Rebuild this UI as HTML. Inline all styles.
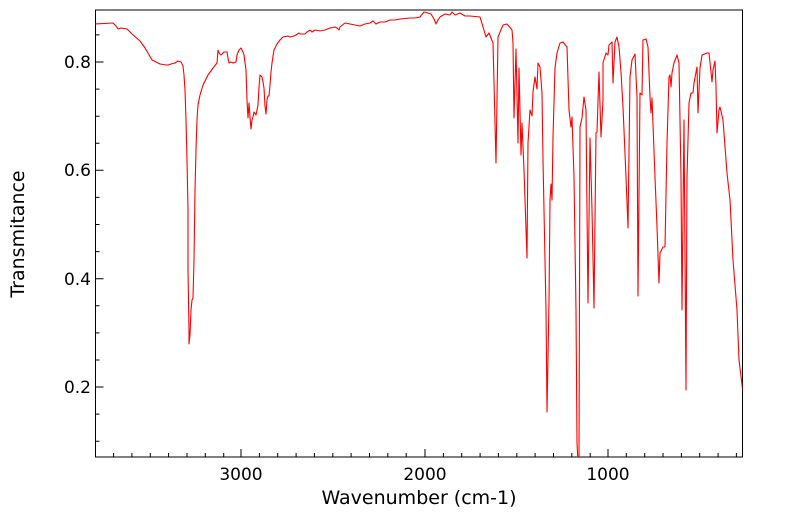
<!DOCTYPE html>
<html><head><meta charset="utf-8"><style>
body{margin:0;background:#fff;}
svg{display:block;font-family:"DejaVu Sans","Liberation Sans",sans-serif;}
</style></head><body>
<svg width="799" height="516" viewBox="0 0 799 516" xmlns="http://www.w3.org/2000/svg">
<defs><clipPath id="c"><rect x="95.5" y="10" width="647" height="447"/></clipPath></defs>
<rect x="95.5" y="10" width="647" height="447" fill="#fff" stroke="#000" stroke-width="1"/>
<g stroke="#000" stroke-width="1">
<path d="M241,457v-8M425,457v-8M608,457v-8"/>
<path d="M113.6,457v-4M131.9,457v-4M150.3,457v-4M168.6,457v-4M187,457v-4M205.3,457v-4M223.7,457v-4M259.4,457v-4M277.7,457v-4M296.1,457v-4M314.4,457v-4M332.8,457v-4M351.1,457v-4M369.5,457v-4M387.8,457v-4M406.2,457v-4M443.4,457v-4M461.7,457v-4M480.1,457v-4M498.4,457v-4M516.8,457v-4M535.1,457v-4M553.5,457v-4M571.8,457v-4M590.2,457v-4M626.3,457v-4M644.7,457v-4M663,457v-4M681.4,457v-4M699.7,457v-4M718.1,457v-4M736.4,457v-4"/>
<path d="M95.5,62h8M95.5,170.3h8M95.5,278.7h8M95.5,387h8"/>
<path d="M95.5,34.9h4M95.5,89.1h4M95.5,116.2h4M95.5,143.2h4M95.5,197.4h4M95.5,224.5h4M95.5,251.6h4M95.5,305.8h4M95.5,332.9h4M95.5,360h4M95.5,414.1h4M95.5,441.2h4"/>
</g>
<g font-size="17" fill="#000">
<text x="91" y="68" text-anchor="end">0.8</text>
<text x="91" y="176" text-anchor="end">0.6</text>
<text x="91" y="285" text-anchor="end">0.4</text>
<text x="91" y="393" text-anchor="end">0.2</text>
<text x="241" y="480" text-anchor="middle">3000</text>
<text x="425" y="480" text-anchor="middle">2000</text>
<text x="608" y="480" text-anchor="middle">1000</text>
</g>
<g font-size="19" fill="#000">
<text x="419" y="504" text-anchor="middle">Wavenumber (cm-1)</text>
<text transform="translate(24,234) rotate(-90)" text-anchor="middle">Transmitance</text>
</g>
<polyline clip-path="url(#c)" fill="none" stroke="#f00" stroke-width="1.1" stroke-linejoin="round" points="
95,24 113,23 116,26 118,29 121,28 127,29 132,34 140,41 145,48 148,53 152,60 160,64 166,65 168,65 171,64 175,63 178,61 181,62 183,66 184,75 185,90 186,120 187,160 188,210 188,270 189,330 189,344 190,335 191,310 192,300 193,298 194,260 195,190 196,150 197,120 198,105 200,95 203,85 208,75 213,68 217,63 218,50 219,53 221,55 224,52 227,52 228,58 229,63 231,62 233,63 236,62 237,55 239,50 241,48 243,52 244,55 246,70 247,100 248,118 249,103 250,117 251,129 252,120 253,117 254,112 256,115 258,105 259,87 260,75 262,77 263,82 264,88 265,106 266,114 267,100 268,96 269,96 270,85 271,72 272,63 274,50 277,44 280,40 283,37 288,36 290,37 294,36 296,35 299,33 300,34 305,34 307,32 310,30 312,32 315,30 320,31 325,30 330,28 335,27 337,28 339,30 340,27 345,23 350,24 355,25 360,26 365,24 370,23 373,21 376,24 380,22 385,22 390,20 395,20 400,19 410,18 415,18 420,17 424,12 428,13 431,14 434,19 436,24 438,20 440,17 445,14 450,15 452,12 455,15 460,13 465,16 470,16 480,17 486,37 489,33 493,43 496,163 498,37 503,25 507,24 512,30 513,43 514,118 516,49 518,143 519,68 521,155 522,123 524,170 527,258 528,143 530,110 532,116 533,92 535,77 537,89 538,63 540,67 542,93 543,160 546,310 547,412 549,302 550,200 551,184 552,200 553,137 555,68 557,53 560,43 563,42 567,47 569,110 571,127 572,117 574,177 576,310 577,443 578,462 579,462 580,127 582,118 584,97 586,110 587,210 588,303 590,138 592,210 594,308 596,133 597,132 599,72 601,137 603,100 603,63 606,53 608,55 609,45 612,42 613,83 615,42 617,37 619,47 621,72 623,107 626,177 628,228 630,77 632,60 635,54 637,97 638,296 640,93 642,95 643,40 646,39 648,47 650,97 651,113 652,98 655,177 657,227 659,283 660,253 663,247 665,247 667,143 669,77 670,75 671,87 672,73 674,63 677,55 679,63 681,177 682,310 684,120 686,390 687,177 689,103 691,93 693,93 694,83 697,67 698,113 700,68 702,55 707,53 709,53 712,82 713,70 715,61 716,87 717,133 719,110 720,107 723,120 727,173 730,200 733,260 737,310 739,360 743,393"/>
</svg>
</body></html>
